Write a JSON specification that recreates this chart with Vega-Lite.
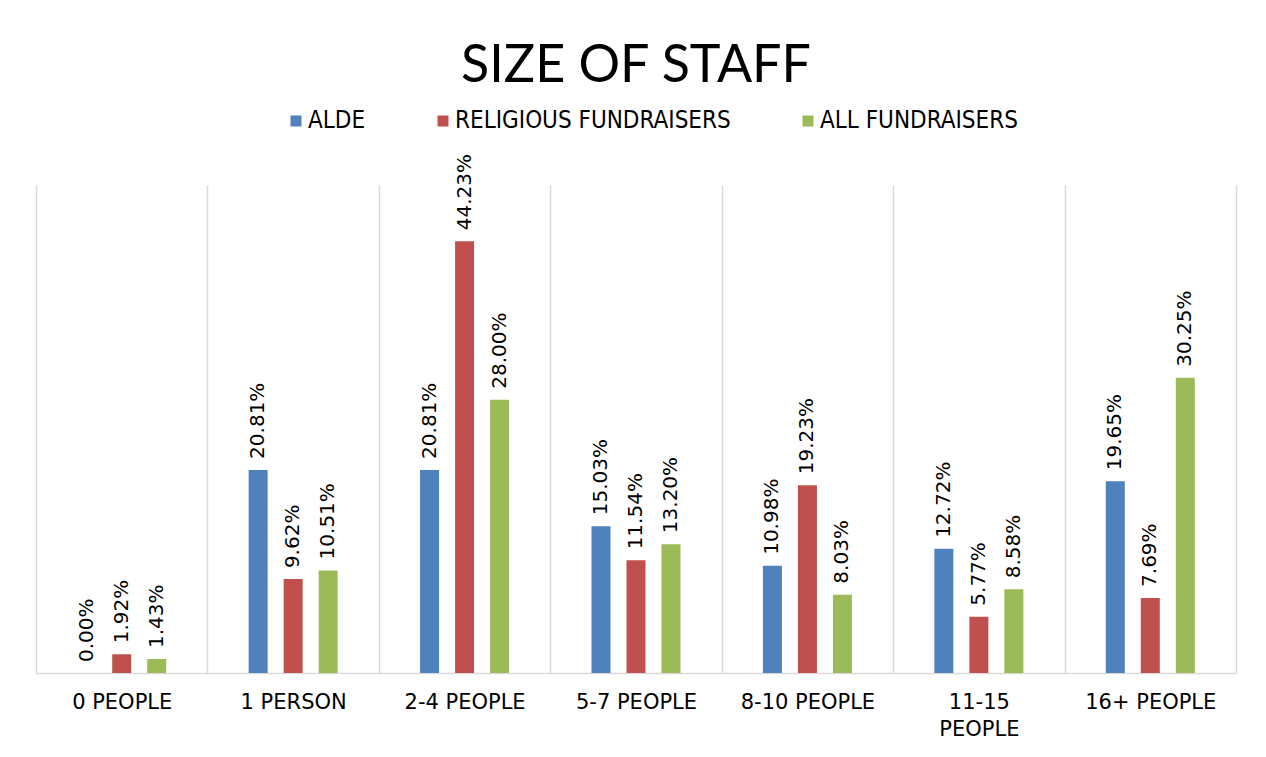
{
  "$schema": "https://vega.github.io/schema/vega-lite/v6.json",
  "width": 1200,
  "height": 488,
  "autosize": {"type": "none"},
  "padding": {"left": 36, "top": 185, "right": 30, "bottom": 84},
  "background": "white",
  "title": {
    "text": "SIZE OF STAFF",
    "anchor": "middle",
    "fontSize": 52,
    "font": "Lato",
    "fontWeight": "normal",
    "color": "#000000",
    "offset": 16
  },
  "data": {
    "values": [
      {"category": "0 PEOPLE", "series": "ALDE", "value": 0.0},
      {"category": "0 PEOPLE", "series": "RELIGIOUS FUNDRAISERS", "value": 0.0192},
      {"category": "0 PEOPLE", "series": "ALL FUNDRAISERS", "value": 0.0143},
      {"category": "1 PERSON", "series": "ALDE", "value": 0.2081},
      {"category": "1 PERSON", "series": "RELIGIOUS FUNDRAISERS", "value": 0.0962},
      {"category": "1 PERSON", "series": "ALL FUNDRAISERS", "value": 0.1051},
      {"category": "2-4 PEOPLE", "series": "ALDE", "value": 0.2081},
      {"category": "2-4 PEOPLE", "series": "RELIGIOUS FUNDRAISERS", "value": 0.4423},
      {"category": "2-4 PEOPLE", "series": "ALL FUNDRAISERS", "value": 0.28},
      {"category": "5-7 PEOPLE", "series": "ALDE", "value": 0.1503},
      {"category": "5-7 PEOPLE", "series": "RELIGIOUS FUNDRAISERS", "value": 0.1154},
      {"category": "5-7 PEOPLE", "series": "ALL FUNDRAISERS", "value": 0.132},
      {"category": "8-10 PEOPLE", "series": "ALDE", "value": 0.1098},
      {"category": "8-10 PEOPLE", "series": "RELIGIOUS FUNDRAISERS", "value": 0.1923},
      {"category": "8-10 PEOPLE", "series": "ALL FUNDRAISERS", "value": 0.0803},
      {"category": "11-15 PEOPLE", "series": "ALDE", "value": 0.1272},
      {"category": "11-15 PEOPLE", "series": "RELIGIOUS FUNDRAISERS", "value": 0.0577},
      {"category": "11-15 PEOPLE", "series": "ALL FUNDRAISERS", "value": 0.0858},
      {"category": "16+ PEOPLE", "series": "ALDE", "value": 0.1965},
      {"category": "16+ PEOPLE", "series": "RELIGIOUS FUNDRAISERS", "value": 0.0769},
      {"category": "16+ PEOPLE", "series": "ALL FUNDRAISERS", "value": 0.3025}
    ]
  },
  "encoding": {
    "x": {
      "field": "category",
      "type": "nominal",
      "sort": ["0 PEOPLE", "1 PERSON", "2-4 PEOPLE", "5-7 PEOPLE", "8-10 PEOPLE", "11-15 PEOPLE", "16+ PEOPLE"],
      "scale": {"paddingInner": 0, "paddingOuter": 0},
      "axis": {
        "title": null,
        "labelAngle": 0,
        "tickBand": "extent",
        "grid": true,
        "gridColor": "#d9d9d9",
        "gridWidth": 1.5,
        "ticks": false,
        "domain": true,
        "domainColor": "#d9d9d9",
        "domainWidth": 1.5,
        "labelFont": "DejaVu Sans",
        "labelFontSize": 21,
        "labelColor": "#000000",
        "labelPadding": 18,
        "labelLineHeight": 27,
        "labelExpr": "datum.label == '11-15 PEOPLE' ? ['11-15', 'PEOPLE'] : datum.label"
      }
    },
    "xOffset": {
      "field": "series",
      "type": "nominal",
      "scale": {
        "domain": ["_l", "ALDE", "RELIGIOUS FUNDRAISERS", "ALL FUNDRAISERS", "_r"],
        "paddingInner": 0.457,
        "paddingOuter": 0.177
      }
    },
    "y": {
      "field": "value",
      "type": "quantitative",
      "scale": {"domain": [0, 0.5]},
      "axis": null
    }
  },
  "layer": [
    {
      "mark": {"type": "bar"},
      "encoding": {
        "color": {
          "field": "series",
          "type": "nominal",
          "sort": ["ALDE", "RELIGIOUS FUNDRAISERS", "ALL FUNDRAISERS"],
          "scale": {
            "domain": ["ALDE", "RELIGIOUS FUNDRAISERS", "ALL FUNDRAISERS"],
            "range": ["#4F81BD", "#C0504D", "#9BBB59"]
          },
          "legend": {
            "title": null,
            "orient": "none",
            "legendX": 248,
            "legendY": -76,
            "padding": 0,
            "direction": "horizontal",
            "symbolType": "square",
            "symbolSize": 121,
            "symbolStrokeWidth": 0,
            "labelOffset": 0,
            "labelFont": "DejaVu Sans Condensed",
            "labelFontSize": 24,
            "labelColor": "#000000",
            "labelLimit": 400,
            "columnPadding": 65
          }
        }
      }
    },
    {
      "mark": {
        "type": "text",
        "angle": 270,
        "align": "left",
        "baseline": "middle",
        "dx": 11,
        "font": "DejaVu Sans",
        "fontSize": 20,
        "color": "#000000"
      },
      "encoding": {
        "text": {"field": "value", "type": "quantitative", "format": ".2%"}
      }
    }
  ],
  "config": {
    "view": {"stroke": null}
  }
}
